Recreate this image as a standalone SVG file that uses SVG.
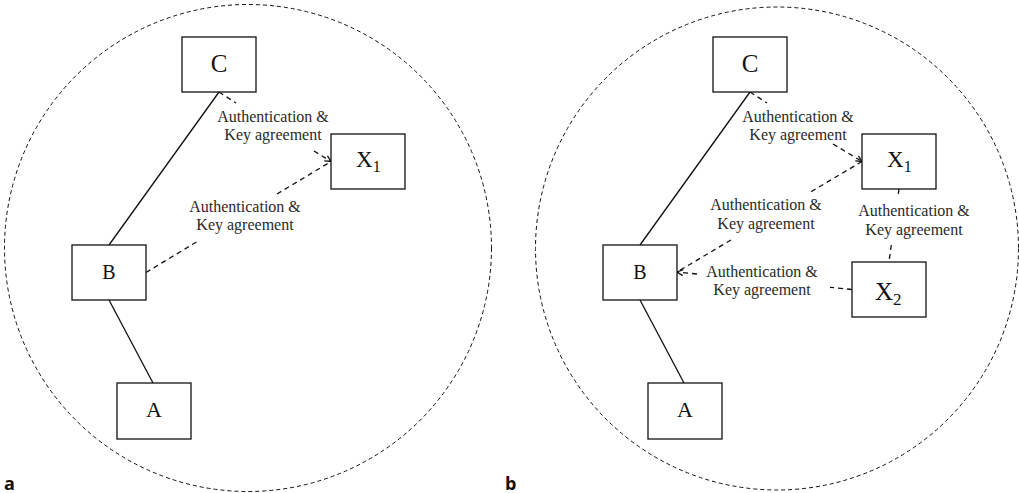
<svg xmlns="http://www.w3.org/2000/svg" width="1019" height="493" viewBox="0 0 1019 493">
  <style>
    .bound { fill: none; stroke: #111; stroke-width: 1; stroke-dasharray: 4 3; }
    .box { fill: #fff; stroke: #111; stroke-width: 1.3; }
    .solid { fill: none; stroke: #111; stroke-width: 1.3; }
    .dash { fill: none; stroke: #111; stroke-width: 1.3; stroke-dasharray: 5 4; }
    .name { font-family: "Liberation Serif", "Times New Roman", serif; fill: #111; text-anchor: middle; }
    .sub { font-family: "Liberation Serif", "Times New Roman", serif; fill: #111; }
    .lbl { font-family: "Liberation Serif", "Times New Roman", serif; font-size: 16px; fill: #2a2a2a; text-anchor: middle; }
    .panel { font-family: "Open Sans", "Noto Sans", sans-serif; font-weight: bold; font-size: 18px; fill: #111; }
  </style>
  <defs>
    <marker id="chev" viewBox="0 0 8 8" refX="7" refY="4" markerWidth="8" markerHeight="8" markerUnits="userSpaceOnUse" orient="auto">
      <path d="M1,1 L7,4 L1,7" fill="none" stroke="#111" stroke-width="1.3"/>
    </marker>
  </defs>

  <!-- dashed boundaries -->
  <circle class="bound" cx="248" cy="248" r="243.5"/>
  <circle class="bound" cx="777" cy="248.5" r="241.5"/>

  <!-- connectors -->
  <g id="connectors">
    <!-- panel a -->
    <path class="solid" d="M219,92 L109,245"/>
    <path class="solid" d="M109,300 L153,383"/>
    <path class="dash" d="M219,92 L236,103"/>
    <path class="dash" d="M314,151 L331,161.5" marker-end="url(#chev)"/>
    <path class="dash" d="M146,272.5 L198,241"/>
    <path class="dash" d="M277,194 L331,161.5"/>
    <!-- panel b -->
    <path class="solid" d="M750,92 L640,245"/>
    <path class="solid" d="M640,300 L684,383"/>
    <path class="dash" d="M750,92 L767,103"/>
    <path class="dash" d="M833,144 L862,161.5" marker-end="url(#chev)"/>
    <path class="dash" d="M731,240 L677,272"/>
    <path class="dash" d="M862,161.5 L808,193.5"/>
    <path class="dash" d="M852,289.5 L830,287.3"/>
    <path class="dash" d="M697,274 L677,272" marker-end="url(#chev)"/>
    <path class="dash" d="M899,189 L897.9,197"/>
    <path class="dash" d="M891.3,245 L889,262"/>
  </g>

  <!-- link labels -->
  <g id="labels">
    <text class="lbl" x="273" y="122">Authentication &amp;</text>
    <text class="lbl" x="273" y="140">Key agreement</text>
    <text class="lbl" x="245" y="212">Authentication &amp;</text>
    <text class="lbl" x="245" y="230">Key agreement</text>
    <text class="lbl" x="798" y="122">Authentication &amp;</text>
    <text class="lbl" x="798" y="140">Key agreement</text>
    <text class="lbl" x="766" y="210">Authentication &amp;</text>
    <text class="lbl" x="766" y="229">Key agreement</text>
    <text class="lbl" x="914" y="216">Authentication &amp;</text>
    <text class="lbl" x="914" y="235">Key agreement</text>
    <text class="lbl" x="762" y="277">Authentication &amp;</text>
    <text class="lbl" x="762" y="295">Key agreement</text>
  </g>

  <!-- panel a nodes -->
  <g id="a-C">
    <rect class="box" x="182" y="37" width="74" height="55"/>
    <text class="name" x="219" y="72" font-size="25">C</text>
  </g>
  <g id="a-X1">
    <rect class="box" x="331" y="134" width="74" height="55"/>
    <text class="sub" x="356" y="167" font-size="23">X<tspan font-size="16" dy="5">1</tspan></text>
  </g>
  <g id="a-B">
    <rect class="box" x="72" y="245" width="74" height="55"/>
    <text class="name" x="109" y="279" font-size="20">B</text>
  </g>
  <g id="a-A">
    <rect class="box" x="117" y="383" width="74" height="56"/>
    <text class="name" x="154" y="417" font-size="22">A</text>
  </g>

  <!-- panel b nodes -->
  <g id="b-C">
    <rect class="box" x="713" y="37" width="74" height="55"/>
    <text class="name" x="750" y="72" font-size="25">C</text>
  </g>
  <g id="b-X1">
    <rect class="box" x="862" y="134" width="74" height="55"/>
    <text class="sub" x="887" y="167" font-size="23">X<tspan font-size="16" dy="5">1</tspan></text>
  </g>
  <g id="b-X2">
    <rect class="box" x="852" y="262" width="74" height="55"/>
    <text class="sub" x="875" y="300" font-size="25">X<tspan font-size="17" dy="5">2</tspan></text>
  </g>
  <g id="b-B">
    <rect class="box" x="603" y="245" width="74" height="55"/>
    <text class="name" x="640" y="279" font-size="20">B</text>
  </g>
  <g id="b-A">
    <rect class="box" x="648" y="383" width="74" height="56"/>
    <text class="name" x="685" y="417" font-size="22">A</text>
  </g>

  <!-- panel letters -->
  <text class="panel" x="4" y="490">a</text>
  <text class="panel" x="505" y="490">b</text>
</svg>
